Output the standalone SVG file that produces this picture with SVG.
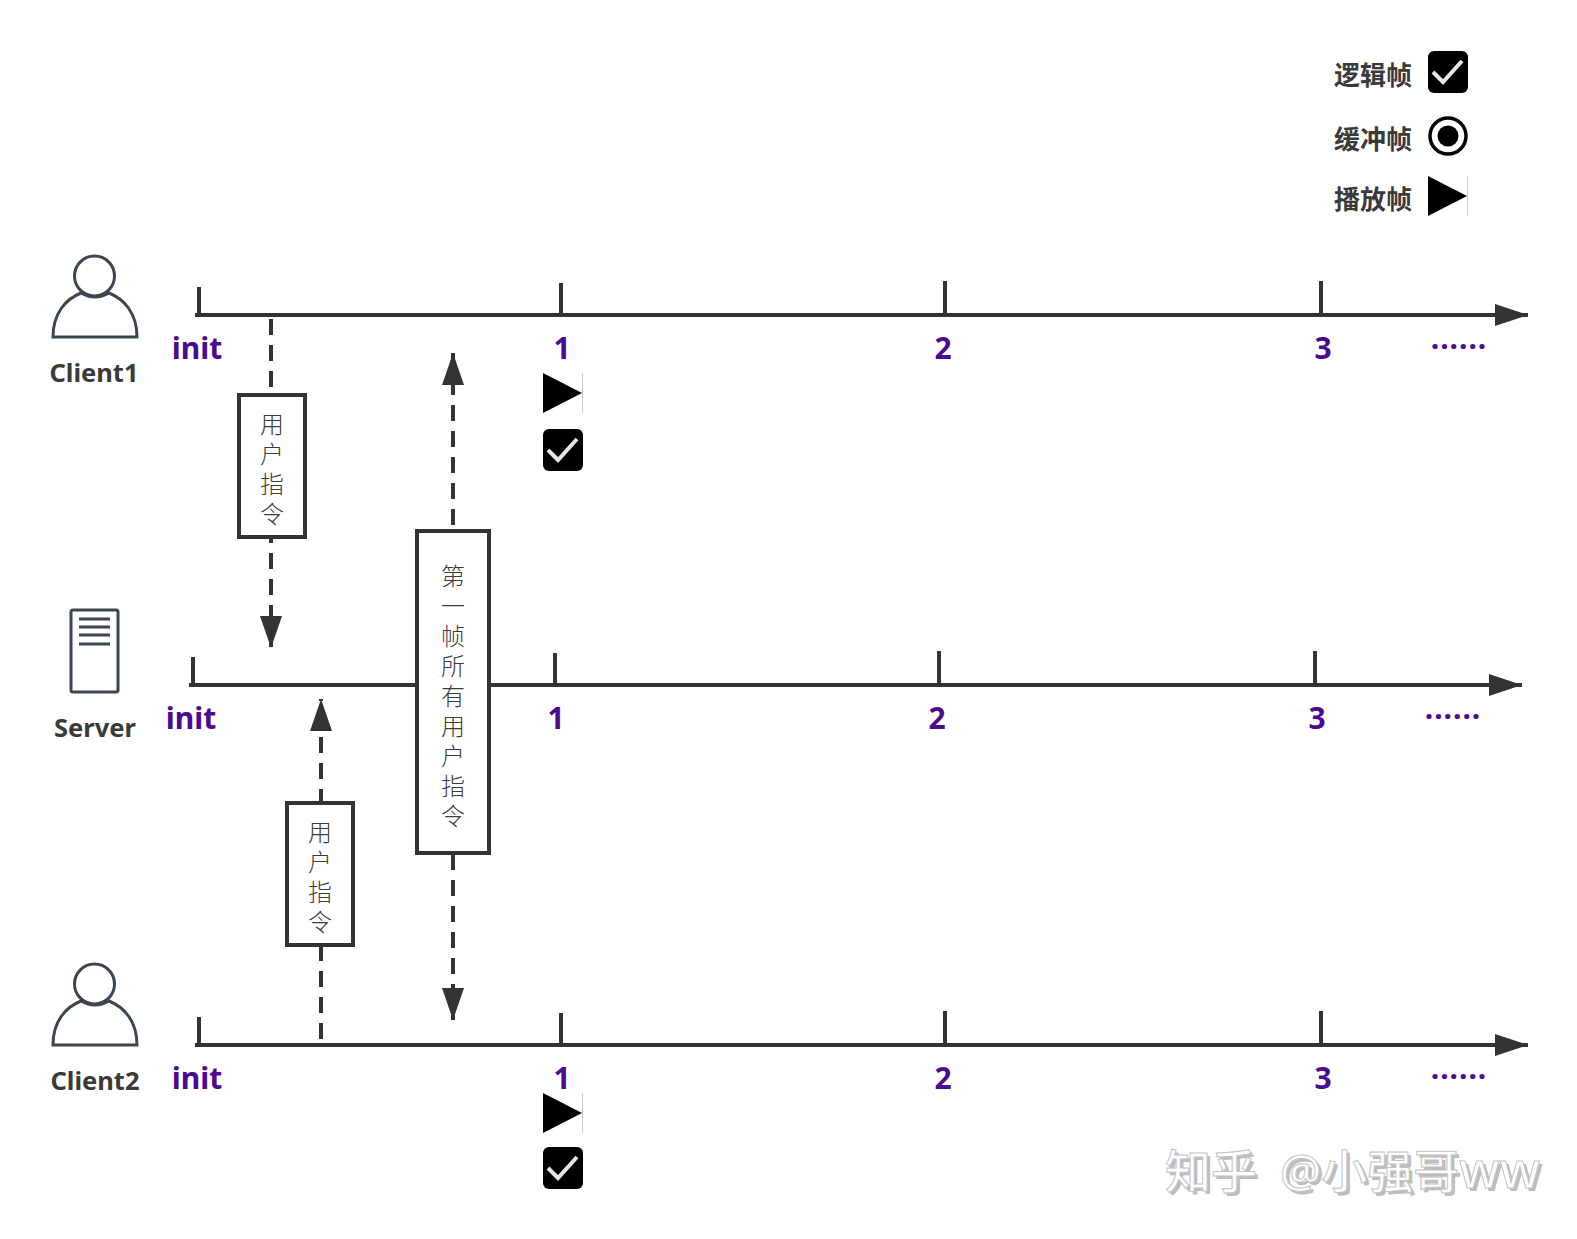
<svg xmlns="http://www.w3.org/2000/svg" xmlns:xlink="http://www.w3.org/1999/xlink" width="1577" height="1239" viewBox="0 0 1577 1239">
<style>
text{font-family:"Noto Sans","Noto Sans CJK SC",sans-serif}
.ax{stroke:#333;stroke-width:4;fill:none}
.dash{stroke:#333;stroke-width:4;fill:none;stroke-dasharray:16 10}
.num{fill:#4b0a8f;font-size:30px;font-weight:700;text-anchor:middle}
.dots{fill:#4b0a8f;font-size:30px;font-weight:700;text-anchor:middle;letter-spacing:1px}
.name{fill:#3a3a3a;font-size:25.500px;font-weight:700;text-anchor:middle}
.leg{fill:#3a3a3a;font-size:26px;font-weight:700;font-family:"Noto Sans CJK SC",sans-serif}
.box{fill:#fff;stroke:#333;stroke-width:4}
.v{fill:#3c3c3c;font-size:24px;font-family:"Noto Sans CJK SC",sans-serif;font-weight:300;writing-mode:vertical-rl;letter-spacing:6px}
.ic{fill:none;stroke:#3c4650;stroke-width:3}
.wm{font-size:46px;font-weight:500;font-family:"Noto Sans CJK SC",sans-serif}
</style>
<defs>
<marker id="arr" markerUnits="userSpaceOnUse" markerWidth="34" markerHeight="24" refX="33" refY="11" orient="auto"><path d="M0 0L33 11L0 22Z" fill="#333"/></marker>
<marker id="dh" markerUnits="userSpaceOnUse" markerWidth="34" markerHeight="24" refX="32" refY="11" orient="auto"><path d="M0 0L32 11L0 22Z" fill="#333"/></marker>
<g id="chk"><rect width="40" height="42" rx="6" fill="#000"/><path d="M5 21L15 31L34 10" fill="none" stroke="#e6e6e6" stroke-width="4"/></g>
<g id="play"><path d="M0 0L39 20L0 40Z" fill="#000"/><path d="M39.500 0V40" stroke="#ccc" stroke-width="1"/></g>
<g id="person"><circle cx="94.500" cy="276" r="20" class="ic"/><path d="M53 337C53 313 66 299 81 293Q95 301 109 293C124 299 137 313 137 337Z" class="ic"/></g>
</defs>

<g id="watermark" class="wm">
<text x="1168" y="1191" fill="#bdbdbd">知乎 <tspan dx="11">@小强哥</tspan><tspan font-size="50">ww</tspan></text>
<text x="1165" y="1188" fill="#fff" stroke="#c4c4c4" stroke-width="1">知乎 <tspan dx="11">@小强哥</tspan><tspan font-size="50">ww</tspan></text>
</g>

<g id="connectors">
<path class="ax" d="M195 315H1528" marker-end="url(#arr)"/>
<path class="ax" d="M199 315V287M561 315V283M945 315V281M1321 315V281"/>
<path class="ax" d="M189 685H1522" marker-end="url(#arr)"/>
<path class="ax" d="M193 685V657M555 685V653M939 685V651M1315 685V651"/>
<path class="ax" d="M195 1045H1528" marker-end="url(#arr)"/>
<path class="ax" d="M199 1045V1017M561 1045V1013M945 1045V1011M1321 1045V1011"/>
<path class="dash" d="M271 319V648" marker-end="url(#dh)"/>
<path class="dash" d="M453 525V353" marker-end="url(#dh)"/>
<path class="dash" d="M453 854V1020" marker-end="url(#dh)"/>
<path class="dash" d="M321 1039V699" marker-end="url(#dh)"/>
</g>

<g id="client1"><use xlink:href="#person"/><text class="name" x="94" y="382">Client1</text></g>
<g id="server">
<rect x="71" y="610" width="47" height="82" rx="2" class="ic"/>
<path d="M79 619H110M79 627H110M79 635H110M79 644H110" class="ic"/>
<text class="name" x="95" y="737">Server</text></g>
<g id="client2"><use xlink:href="#person" y="708"/><text class="name" x="95" y="1090">Client2</text></g>

<g id="labels-client1">
<text class="num" x="197" y="359">init</text><text class="num" x="562" y="359">1</text><text class="num" x="943" y="359">2</text><text class="num" x="1323" y="359">3</text>
<text class="dots" x="1459" y="349">......</text></g>
<g id="labels-server">
<text class="num" x="191" y="729">init</text><text class="num" x="556" y="729">1</text><text class="num" x="937" y="729">2</text><text class="num" x="1317" y="729">3</text>
<text class="dots" x="1453" y="719">......</text></g>
<g id="labels-client2">
<text class="num" x="197" y="1089">init</text><text class="num" x="562" y="1089">1</text><text class="num" x="943" y="1089">2</text><text class="num" x="1323" y="1089">3</text>
<text class="dots" x="1459" y="1079">......</text></g>

<g id="legend">
<text class="leg" x="1334" y="85">逻辑帧</text><use xlink:href="#chk" x="1428" y="51"/>
<text class="leg" x="1334" y="149">缓冲帧</text>
<circle cx="1448" cy="136" r="18" fill="none" stroke="#000" stroke-width="3.500"/><circle cx="1448" cy="136" r="10.500" fill="#000"/>
<text class="leg" x="1334" y="209">播放帧</text><use xlink:href="#play" x="1428" y="176"/>
</g>

<g id="frames-client1"><use xlink:href="#play" x="543" y="373"/><use xlink:href="#chk" x="543" y="429"/></g>
<g id="frames-client2"><use xlink:href="#play" x="543" y="1093"/><use xlink:href="#chk" x="543" y="1147"/></g>

<g id="cmd1"><rect class="box" x="239" y="395" width="66" height="142"/>
<text class="v" x="272" y="412">用户指令</text></g>
<g id="first-frame"><rect class="box" x="417" y="531" width="72" height="322"/>
<text class="v" x="453" y="564">第一帧所有用户指令</text></g>
<g id="cmd2"><rect class="box" x="287" y="803" width="66" height="142"/>
<text class="v" x="320" y="820">用户指令</text></g>
</svg>
